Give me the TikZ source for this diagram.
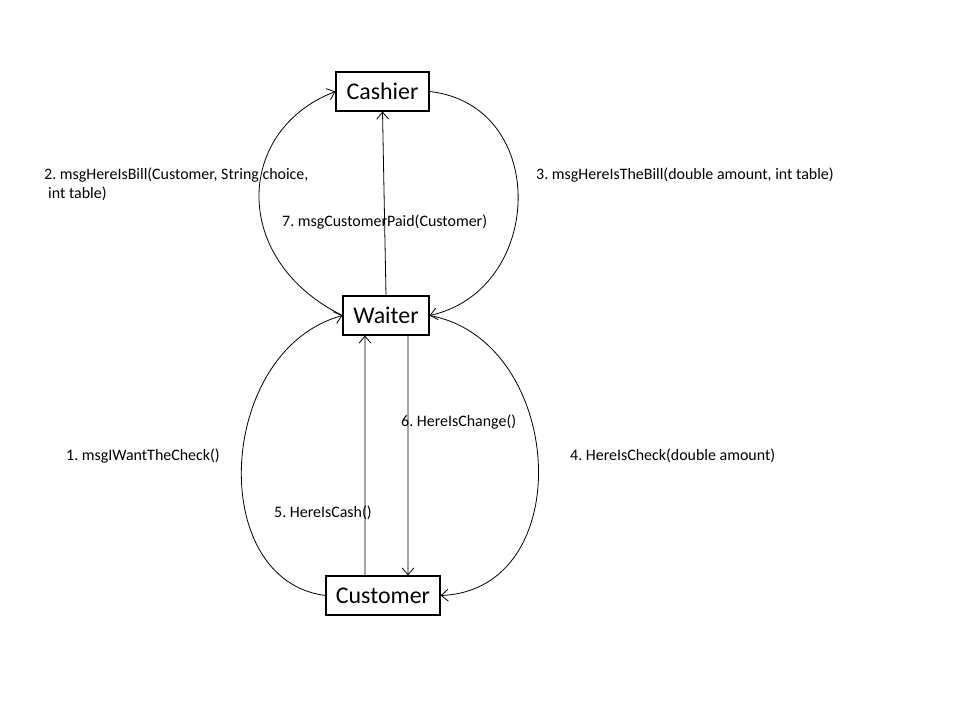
\documentclass[tikz,border=0pt]{standalone}
\usepackage{fontspec}
\setmainfont{Carlito}
\frenchspacing
\usetikzlibrary{arrows.meta}
\tikzset{
  box/.style={draw, line width=1.2bp, minimum height=39bp, inner sep=0pt,
    font=\fontsize{24}{28}\selectfont},
  msg/.style={font=\fontsize{16}{19}\selectfont, inner sep=0pt, anchor=west, align=left},
  link/.style={line width=0.8bp, -{Straight Barb[length=7bp,width=12bp]}}
}
\begin{document}
\begin{tikzpicture}[x=1bp, y=-1bp]
\useasboundingbox (0,0) rectangle (960,720);

% Los tres objetos
\node[box, minimum width=93bp] (cashier) at (382.5,91.5) {Cashier};
\node[box, minimum width=86bp] (waiter) at (386,315.5) {Waiter};
\node[box, minimum width=114bp] (customer) at (383,595.5) {Customer};

% Curvas entre objetos
\draw[link] (customer.west) .. controls (205,580) and (217,350) .. (waiter.west);
\draw[link] (waiter.west) .. controls (230,260) and (235,130) .. (cashier.west);
\draw[link] (cashier.east) .. controls (550,105) and (545,290) .. (waiter.east);
\draw[link] (waiter.east) .. controls (565,340) and (580,590) .. (customer.east);

% Flechas rectas
\draw[link] ([xshift=-18bp]customer.north) -- ([xshift=-21bp]waiter.south);
\draw[link] ([xshift=22bp]waiter.south) -- ([xshift=25bp]customer.north);
\draw[link] (waiter.north) -- (cashier.south);

% Mensajes
\node[msg] (m1) at (66,456) {1. msgIWantTheCheck()};
\node[msg] (m2) at (44,184.5) {2. msgHereIsBill(Customer, String choice,\\\hspace*{4bp}int table)};
\node[msg] (m3) at (536,175) {3. msgHereIsTheBill(double amount, int table)};
\node[msg] (m4) at (570,456) {4. HereIsCheck(double amount)};
\node[msg] (m5) at (274,513) {5. HereIsCash()};
\node[msg] (m6) at (401,422) {6. HereIsChange()};
\node[msg] (m7) at (282,222) {7. msgCustomerPaid(Customer)};
\end{tikzpicture}
\end{document}
